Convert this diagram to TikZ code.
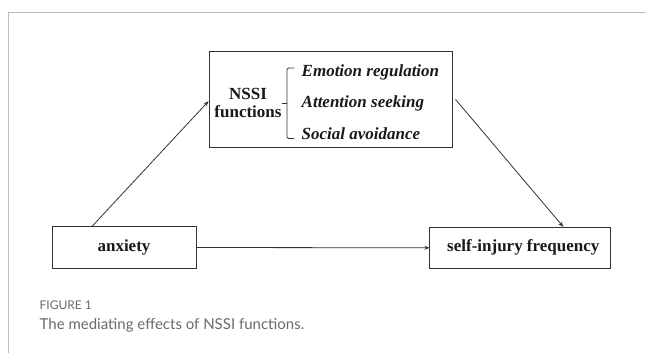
\documentclass[tikz,border=0pt]{standalone}
\usepackage{fontspec}
\setmainfont{Liberation Serif}
\newfontfamily\capfont{Lato}
\usetikzlibrary{arrows.meta,calc}
\definecolor{framegray}{HTML}{BBBBBB}
\definecolor{capgray}{HTML}{6A6A6A}
\definecolor{linegray}{HTML}{333333}
\tikzset{
  box/.style={draw=linegray, line width=1pt, rectangle, inner sep=0pt, fill=white},
  boxtext/.style={font=\fontsize{17}{17.5}\selectfont\bfseries, text=black!90},
  itemtext/.style={font=\fontsize{17}{18}\selectfont\bfseries\itshape, text=black!90, anchor=west, inner sep=0pt},
  conn/.style={draw=linegray, line width=0.8pt, -{Stealth[length=5pt,width=4pt]}},
  brace/.style={draw=linegray, line width=0.8pt, rounded corners=1.5pt}
}
\begin{document}
\begin{tikzpicture}[x=1pt,y=-1pt]
\useasboundingbox (0,0) rectangle (646,353);
% frame
\draw[framegray, line width=1pt] (8,353) -- (8,12.5) -- (646,12.5);
% boxes
\node[box, minimum width=243pt, minimum height=95.4pt] (nssi) at (330.5,99.4) {};
\node[box, minimum width=144pt, minimum height=41.6pt, boxtext] (anx) at (124,247.5) {anxiety};
\node[box, minimum width=180.7pt, minimum height=41pt, boxtext] (self) at (520.3,247.8) {\hspace*{6pt}self-injury frequency};
% NSSI content
\node[boxtext, align=center, inner sep=0pt] (nssilbl) at (248,103) {NSSI\\functions};
\node[itemtext] (e1) at (301.5,72.5) {Emotion regulation};
\node[itemtext] (e2) at (301.5,103) {Attention seeking};
\node[itemtext] (e3) at (301.5,133.5) {Social avoidance};
% bracket
\coordinate (bt) at (294,68);
\coordinate (bb) at (294,138.5);
\coordinate (bm) at (282,103);
\draw[brace] (bt) -- (287,68) -- (287,138.5) -- (bb);
\draw[linegray, line width=0.8pt] (287,103) -- (bm);
% connectors
\draw[conn] ([xshift=40.7pt]anx.north west) -- ([yshift=-1.8pt]nssi.west);
\draw[conn] ([xshift=3pt]nssi.east) -- ([xshift=43pt]self.north);
\draw[conn] (anx.east) -- (self.west);
% caption
\node[anchor=west, inner sep=0pt, text=capgray, font=\capfont\fontsize{12}{14}\selectfont] (fig) at (39.5,305) {FIGURE 1};
\node[anchor=west, inner sep=0pt, text=capgray, font=\capfont\fontsize{15}{17}\selectfont] (cap) at (39.5,325.5) {The mediating effects of NSSI functions.};
\end{tikzpicture}
\end{document}
